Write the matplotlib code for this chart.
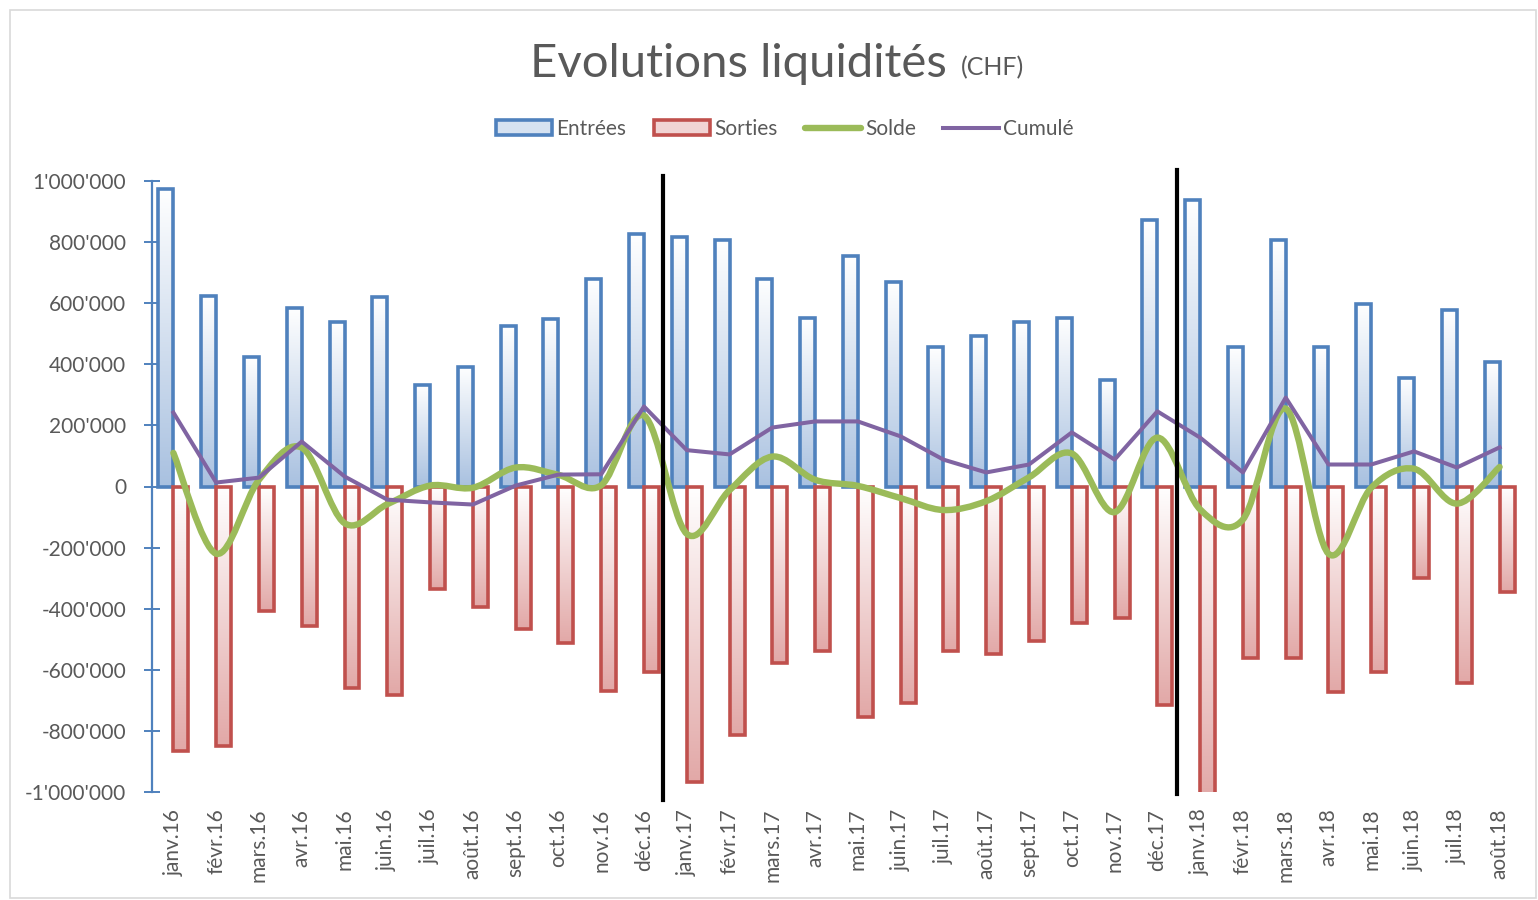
import numpy as np
import matplotlib
matplotlib.use('Agg')
import matplotlib.pyplot as plt
from matplotlib.path import Path
from matplotlib.patches import PathPatch, Rectangle, Patch
from matplotlib.lines import Line2D
from matplotlib.colors import LinearSegmentedColormap
from matplotlib.ticker import FuncFormatter

plt.rcParams['font.family'] = ['Lato', 'DejaVu Sans']

months = ['janv.16', 'févr.16', 'mars.16', 'avr.16', 'mai.16', 'juin.16', 'juil.16', 'août.16',
          'sept.16', 'oct.16', 'nov.16', 'déc.16',
          'janv.17', 'févr.17', 'mars.17', 'avr.17', 'mai.17', 'juin.17', 'juil.17', 'août.17',
          'sept.17', 'oct.17', 'nov.17', 'déc.17',
          'janv.18', 'févr.18', 'mars.18', 'avr.18', 'mai.18', 'juin.18', 'juil.18', 'août.18']

entrees = [975000, 625000, 425000, 583000, 540000, 619000, 331000, 390000,
           524000, 547000, 678000, 828000,
           818000, 808000, 678000, 553000, 756000, 668000, 458000, 494000,
           537000, 553000, 347000, 871000,
           939000, 458000, 808000, 458000, 599000, 354000, 579000, 406000]

sorties = [-867000, -851000, -406000, -458000, -658000, -684000, -337000, -396000,
           -468000, -511000, -668000, -606000,
           -966000, -815000, -579000, -537000, -756000, -710000, -537000, -547000,
           -507000, -448000, -432000, -714000,
           -1025000, -563000, -563000, -674000, -606000, -301000, -642000, -344000]

solde = [110000, -220000, 22000, 127000, -120000, -58000, 3000, -4000,
         62000, 38000, 4000, 232000,
         -155000, -12000, 98000, 22000, 2000, -38000, -77000, -48000,
         30000, 108000, -84000, 160000,
         -75000, -108000, 255000, -220000, -4000, 58000, -56000, 64000]

cumule = [242000, 13000, 29000, 147000, 33000, -43000, -52000, -59000,
          3000, 39000, 40000, 262000,
          119000, 105000, 193000, 213000, 213000, 164000, 88000, 46000,
          72000, 177000, 88000, 246000,
          160000, 46000, 291000, 72000, 72000, 115000, 62000, 128000]

series_names = ['Entrées', 'Sorties', 'Solde', 'Cumulé']
year_breaks = [11.45, 23.45]

BLUE = '#4F81BD'
RED = '#C0504D'
GREEN = '#9BBB59'
PURPLE = '#8064A2'
TXT = '#595959'

W, H = 1538, 900
fig = plt.figure(figsize=(W / 100, H / 100), dpi=100)
ax = fig.add_axes([152 / W, 1 - 792 / H, (1521 - 152) / W, (792 - 181) / H])

x = np.arange(len(months))
bw = 0.35

bars_e = ax.bar(x - bw / 2, entrees, width=bw, facecolor='none', edgecolor=BLUE,
                linewidth=2.6, zorder=3)
bars_s = ax.bar(x + bw / 2, sorties, width=bw, facecolor='none', edgecolor=RED,
                linewidth=2.6, zorder=3)

cmap_b = LinearSegmentedColormap.from_list('b', ['#FFFFFF', '#A9C1E0'])
cmap_r = LinearSegmentedColormap.from_list('r', ['#FFFFFF', '#E2A8A7'])
grad = np.linspace(0, 1, 256).reshape(-1, 1)
for bars, cm in ((bars_e, cmap_b), (bars_s, cmap_r)):
    for p in bars.patches:
        x0, y0, w, h = p.get_x(), p.get_y(), p.get_width(), p.get_height()
        ax.imshow(grad, extent=(x0, x0 + w, min(y0, y0 + h), max(y0, y0 + h)),
                  aspect='auto', cmap=cm, origin='upper', zorder=2,
                  interpolation='bilinear')


def smooth_path(xs, ys):
    P = np.column_stack([xs, ys]).astype(float)
    n = len(P)
    verts = [P[0]]
    codes = [Path.MOVETO]
    for i in range(n - 1):
        p0 = P[i - 1] if i > 0 else P[i]
        p1 = P[i]
        p2 = P[i + 1]
        p3 = P[i + 2] if i + 2 < n else P[i + 1]
        c1 = p1 + (p2 - p0) / 6.0
        c2 = p2 - (p3 - p1) / 6.0
        verts += [c1, c2, p2]
        codes += [Path.CURVE4] * 3
    return Path(verts, codes)


ax.add_patch(PathPatch(smooth_path(x, solde), facecolor='none', edgecolor=GREEN,
                       linewidth=4.6, capstyle='round', joinstyle='round', zorder=4))
ax.plot(x, cumule, color=PURPLE, linewidth=2.9, zorder=5, solid_joinstyle='round')

ax.plot([year_breaks[0]] * 2, [1016000, -1025000], color='black', linewidth=3,
        clip_on=False, zorder=6)
ax.plot([year_breaks[1]] * 2, [1037000, -1008000], color='black', linewidth=3,
        clip_on=False, zorder=6)

ax.set_xlim(-0.5, len(months) - 0.5)
ax.set_ylim(-1000000, 1000000)
ax.set_yticks(np.arange(-1000000, 1000001, 200000))
ax.yaxis.set_major_formatter(FuncFormatter(lambda v, _: f"{int(round(v)):,}".replace(',', "'")))
ax.set_xticks(x)
ax.set_xticklabels(months, rotation=90, color=TXT, fontsize=15)
ax.tick_params(axis='x', length=0, pad=12)
ax.tick_params(axis='y', direction='inout', length=11, width=1.4, color=BLUE,
               labelsize=15, labelcolor=TXT, pad=13)
for s in ('top', 'right', 'bottom'):
    ax.spines[s].set_visible(False)
ax.spines['left'].set_color(BLUE)
ax.spines['left'].set_linewidth(1.6)
ax.patch.set_alpha(0)

fig.text(947 / W, 1 - 77 / H, 'Evolutions liquidités', ha='right', va='baseline',
         fontsize=34, color=TXT)
fig.text(961 / W, 1 - 75 / H, '(CHF)', ha='left', va='baseline', fontsize=18, color=TXT)

handles = [Patch(facecolor='#D6E2F1', edgecolor=BLUE, linewidth=2.6),
           Patch(facecolor='#F1D4D4', edgecolor=RED, linewidth=2.6),
           Line2D([], [], color=GREEN, linewidth=4.6, solid_capstyle='round'),
           Line2D([], [], color=PURPLE, linewidth=2.9)]
leg = fig.legend(handles, series_names, loc='center', bbox_to_anchor=(785 / W, 1 - 129 / H),
                 ncol=4, frameon=False, fontsize=15, handlelength=2.7, handleheight=0.7,
                 handletextpad=0.2, columnspacing=1.3, labelcolor=TXT)

fig.patches.append(Rectangle((10 / W, 2 / H), (W - 12) / W, (H - 12) / H,
                             transform=fig.transFigure, fill=False,
                             edgecolor='#D9D9D9', linewidth=1.2))

fig.savefig('out.png', dpi=100)
